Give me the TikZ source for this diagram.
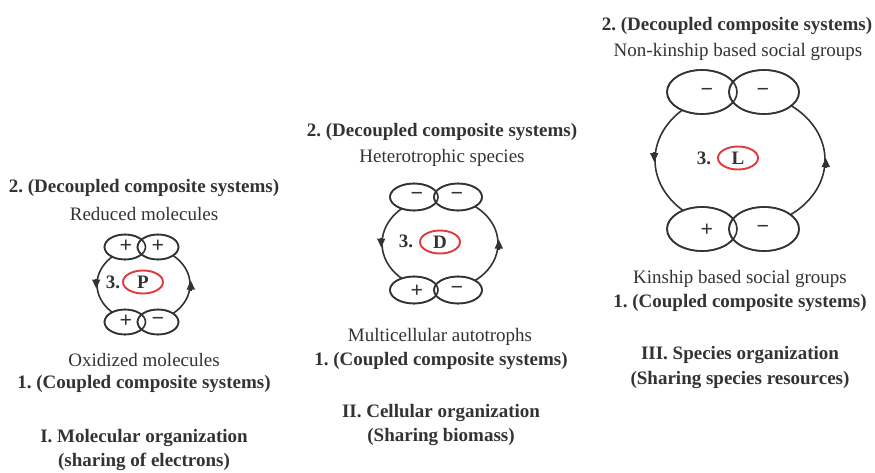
\documentclass[tikz,border=0pt]{standalone}
\usepackage{fontspec}
\setmainfont{Liberation Serif}
\usetikzlibrary{arrows.meta,shapes.geometric}
\definecolor{ink}{HTML}{333333}
\definecolor{redring}{HTML}{E23A3A}
\frenchspacing
\tikzset{
  bigtxt/.style={text=ink,font=\fontsize{19}{22}\selectfont\bfseries,inner sep=0pt},
  regtxt/.style={text=ink,font=\fontsize{19}{22}\selectfont,inner sep=0pt},
  loopc/.style={ellipse,draw=ink,line width=1.6pt,inner sep=0pt},
  lobe/.style={ellipse,draw=ink,fill=white,line width=1.6pt,inner sep=0pt},
  lobeline/.style={ellipse,draw=ink,line width=1.6pt,inner sep=0pt},
  sign/.style={text=ink,font=\fontsize{22}{24}\selectfont\bfseries,inner sep=0pt},
  redov/.style={ellipse,draw=redring,line width=1.9pt,inner sep=0pt,minimum width=40pt,minimum height=23pt,text=ink,font=\fontsize{19}{22}\selectfont\bfseries},
  tip/.style={draw=ink,line width=1.6pt,-{Triangle[length=9pt,width=8pt]}}
}
\begin{document}
\begin{tikzpicture}[x=1pt,y=-1pt]
\useasboundingbox[fill=white] (0,0) rectangle (875,472);
% ---------- Panel I ----------
\node[bigtxt] (t1a) at (144,188) {2. (Decoupled composite systems)};
\node[regtxt] (t1b) at (144,214) {Reduced molecules};
\node[loopc,minimum width=93pt,minimum height=75pt] (c1) at (143.5,284.5) {};
\begin{scope}[every node/.style={lobe,minimum width=41pt,minimum height=25pt}]
\node (a1) at (125,247) {};
\node (b1) at (158,247) {};
\node (d1) at (125,322) {};
\node (e1) at (158,322) {};
\end{scope}
\begin{scope}[every node/.style={lobeline,minimum width=41pt,minimum height=25pt}]
\node (a1o) at (125,247) {};
\node (b1o) at (158,247) {};
\node (d1o) at (125,322) {};
\node (e1o) at (158,322) {};
\end{scope}
\node[sign] (s1a) at (126,246) {+};
\node[sign] (s1b) at (158,246) {+};
\node[sign] (s1d) at (126,321) {+};
\node[sign] (s1e) at (158,321) {−};
\draw[tip] ([yshift=6pt]c1.west) -- ([yshift=-4pt]c1.west);
\draw[tip] ([yshift=-6pt]c1.east) -- ([yshift=4pt]c1.east);
\node[bigtxt] (n1) at (113,282) {3.};
\node[redov] (r1) at (143,282) {P};
\node[regtxt] (t1c) at (144,360) {Oxidized molecules};
\node[bigtxt] (t1d) at (144,384) {1. (Coupled composite systems)};
\node[bigtxt] (t1e) at (144,438) {I. Molecular organization};
\node[bigtxt] (t1f) at (144,462) {(sharing of electrons)};
% ---------- Panel II ----------
\node[bigtxt] (t2a) at (442,132) {2. (Decoupled composite systems)};
\node[regtxt] (t2b) at (442,158) {Heterotrophic species};
\node[loopc,minimum width=116pt,minimum height=93pt] (c2) at (440,243.5) {};
\begin{scope}[every node/.style={lobe,minimum width=48pt,minimum height=27pt}]
\node (a2) at (414,197) {};
\node (b2) at (458,197) {};
\node (d2) at (414,290) {};
\node (e2) at (458,290) {};
\end{scope}
\begin{scope}[every node/.style={lobeline,minimum width=48pt,minimum height=27pt}]
\node (a2o) at (414,197) {};
\node (b2o) at (458,197) {};
\node (d2o) at (414,290) {};
\node (e2o) at (458,290) {};
\end{scope}
\node[sign] (s2a) at (417,196) {−};
\node[sign] (s2b) at (457,196) {−};
\node[sign] (s2d) at (417,291) {+};
\node[sign] (s2e) at (457,290) {−};
\draw[tip] ([yshift=6pt]c2.west) -- ([yshift=-4pt]c2.west);
\draw[tip] ([yshift=-6pt]c2.east) -- ([yshift=4pt]c2.east);
\node[bigtxt] (n2) at (406,241) {3.};
\node[redov] (r2) at (440,242) {D};
\node[regtxt] (t2c) at (440,337) {Multicellular autotrophs};
\node[bigtxt] (t2d) at (441,361) {1. (Coupled composite systems)};
\node[bigtxt] (t2e) at (441,413) {II. Cellular organization};
\node[bigtxt] (t2f) at (441,437) {(Sharing biomass)};
% ---------- Panel III ----------
\node[bigtxt] (t3a) at (737,26) {2. (Decoupled composite systems)};
\node[regtxt] (t3b) at (738,52) {Non-kinship based social groups};
\node[loopc,minimum width=170pt,minimum height=136pt] (c3) at (740,160) {};
\begin{scope}[every node/.style={lobe,minimum width=70pt,minimum height=44pt}]
\node (a3) at (702,92) {};
\node (b3) at (764,92) {};
\node (d3) at (702,229) {};
\node (e3) at (764,229) {};
\end{scope}
\begin{scope}[every node/.style={lobeline,minimum width=70pt,minimum height=44pt}]
\node (a3o) at (702,92) {};
\node (b3o) at (764,92) {};
\node (d3o) at (702,229) {};
\node (e3o) at (764,229) {};
\end{scope}
\node[sign] (s3a) at (707,92) {−};
\node[sign] (s3b) at (763,92) {−};
\node[sign] (s3d) at (707,230) {+};
\node[sign] (s3e) at (763,229) {−};
\draw[tip] ([yshift=8pt]c3.west) -- ([yshift=-2pt]c3.west);
\draw[tip] ([yshift=-8pt]c3.east) -- ([yshift=2pt]c3.east);
\node[bigtxt] (n3) at (704,158) {3.};
\node[redov] (r3) at (738,158) {L};
\node[regtxt] (t3c) at (740,279) {Kinship based social groups};
\node[bigtxt] (t3d) at (740,303) {1. (Coupled composite systems)};
\node[bigtxt] (t3e) at (740,355) {III. Species organization};
\node[bigtxt] (t3f) at (740,380) {(Sharing species resources)};
\end{tikzpicture}
\end{document}
